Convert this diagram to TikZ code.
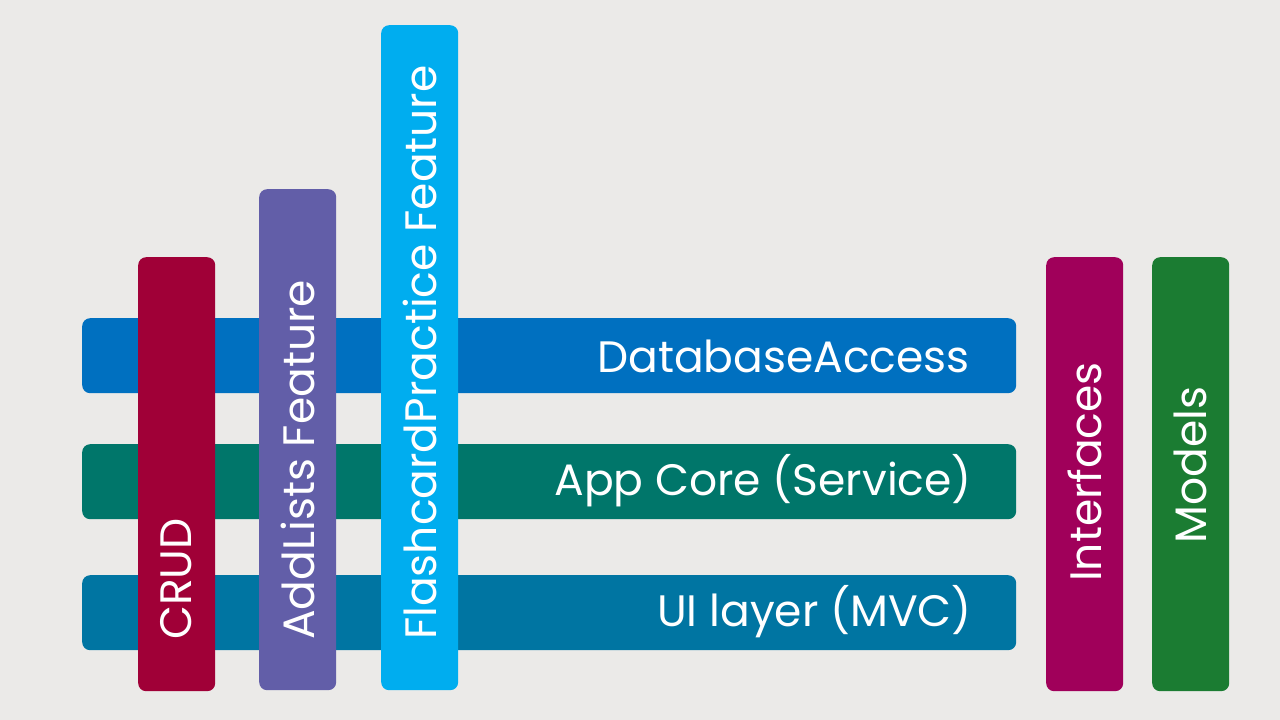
\documentclass[tikz,border=0pt]{standalone}
\usepackage{fontspec}
\setmainfont{Poppins}
\definecolor{bg}{RGB}{235,234,232}
\definecolor{cDB}{RGB}{0,112,192}
\definecolor{cCore}{RGB}{0,118,106}
\definecolor{cUI}{RGB}{0,117,162}
\definecolor{cCRUD}{RGB}{160,0,55}
\definecolor{cAdd}{RGB}{98,94,168}
\definecolor{cFlash}{RGB}{0,173,239}
\definecolor{cInt}{RGB}{160,0,90}
\definecolor{cMod}{RGB}{27,124,50}
\begin{document}
\begin{tikzpicture}[x=1pt,y=-1pt,
  hbar/.style={fill=#1, rounded corners=8pt, minimum width=934pt, minimum height=75pt, inner sep=0pt, draw=none, anchor=north west},
  vbar/.style={fill=#1, rounded corners=8pt, minimum width=77pt, inner sep=0pt, draw=none, anchor=north west},
  lbl/.style={text=white, font=\fontsize{44}{50}\selectfont, inner sep=0pt},
  vlbl/.style={lbl, rotate=90}]
\fill[bg] (0,0) rectangle (1280,720);
\useasboundingbox (0,0) rectangle (1280,720);
% horizontal layers
\node[hbar=cDB] (db) at (82,318) {};
\node[hbar=cCore] (core) at (82,444) {};
\node[hbar=cUI] (ui) at (82,575) {};
\node[lbl, anchor=east] (dbt) at (970,356) {DatabaseAccess};
\node[lbl, anchor=east] (coret) at (972,481) {App Core (Service)};
\node[lbl, anchor=east] (uit) at (972,612) {UI layer (MVC)};
% vertical features
\node[vbar=cCRUD, minimum height=434pt] (crud) at (138,257) {};
\node[vbar=cAdd, minimum height=501pt] (add) at (259,189) {};
\node[vbar=cFlash, minimum height=665pt] (flash) at (381,25) {};
\node[vbar=cInt, minimum height=434pt] (int) at (1046,257) {};
\node[vbar=cMod, minimum height=434pt] (mod) at (1152,257) {};
\node[vlbl, anchor=west] (crudt) at (176.5,640) {CRUD};
\node[vlbl, anchor=west] (addt) at (297.5,640) {AddLists Feature};
\node[vlbl, anchor=west] (flasht) at (419.5,640) {FlashcardPractice Feature};
\node[vlbl] (intt) at (1084.5,472) {Interfaces};
\node[vlbl] (modt) at (1190.5,465) {Models};
\end{tikzpicture}
\end{document}
